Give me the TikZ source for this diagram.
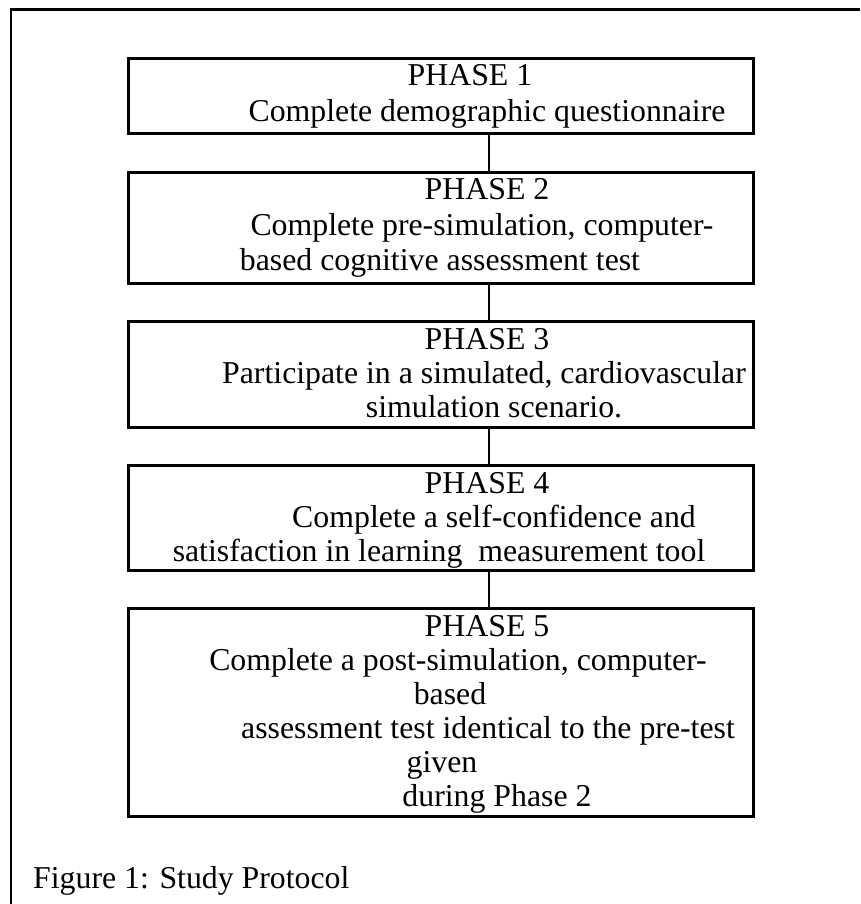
\documentclass[tikz,border=0pt]{standalone}
\usepackage{fontspec}
\setmainfont{Liberation Serif}
\begin{document}
\begin{tikzpicture}[x=1pt,y=-1pt,
  box/.style={draw=black, line width=2.7pt, minimum width=625pt, anchor=north west, inner sep=0pt},
  txt/.style={anchor=base, inner sep=0pt, font=\fontsize{31.8}{34}\selectfont},
  conn/.style={draw=black, line width=2.7pt},
  frameline/.style={draw=black, line width=2.5pt}]
\useasboundingbox (0,0) rectangle (860,904);
\fill[white] (0,0) rectangle (860,904);
% outer frame (only top and left visible)
\coordinate (ftr) at (860,9.5);
\coordinate (ftl) at (11,9.5);
\coordinate (fbl) at (11,904);
\draw[frameline] (ftr) -- (ftl) -- (fbl);
% boxes
\node[box, minimum height=75pt] (b1) at (127,57) {};
\node[box, minimum height=111pt] (b2) at (127,171) {};
\node[box, minimum height=106pt] (b3) at (127,320) {};
\node[box, minimum height=105pt] (b4) at (127,464) {};
\node[box, minimum height=208pt] (b5) at (127,607) {};
% connector x
\coordinate (cx) at (489,0);
\draw[conn] (b1.south -| cx) -- (b2.north -| cx);
\draw[conn] (b2.south -| cx) -- (b3.north -| cx);
\draw[conn] (b3.south -| cx) -- (b4.north -| cx);
\draw[conn] (b4.south -| cx) -- (b5.north -| cx);
% texts
\node[txt] (t11) at (470,86) {PHASE 1};
\node[txt] (t12) at (487,122) {Complete demographic questionnaire};
\node[txt] (t21) at (487,200) {PHASE 2};
\node[txt] (t22) at (482,235) {Complete pre-simulation, computer-};
\node[txt] (t23) at (440,270) {based cognitive assessment test};
\node[txt] (t31) at (487,349) {PHASE 3};
\node[txt] (t32) at (484,383) {Participate in a simulated, cardiovascular};
\node[txt] (t33) at (494,417) {simulation scenario.};
\node[txt] (t41) at (487,493) {PHASE 4};
\node[txt] (t42) at (494,527) {Complete a self-confidence and};
\node[txt] (t43) at (439,561) {satisfaction in learning\ \ measurement tool};
\node[txt] (t51) at (487,636) {PHASE 5};
\node[txt] (t52) at (458,670) {Complete a post-simulation, computer-};
\node[txt] (t53) at (450,704) {based};
\node[txt] (t54) at (488,738) {assessment test identical to the pre-test};
\node[txt] (t55) at (442,772) {given};
\node[txt] (t56) at (497,806) {during Phase 2};
\node[txt, anchor=base west] (cap) at (33,888) {Figure 1: Study Protocol};
\end{tikzpicture}
\end{document}
